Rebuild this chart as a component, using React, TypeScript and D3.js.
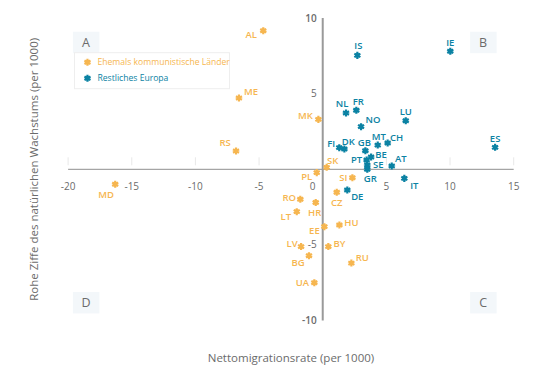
import React from "react";
import * as d3 from "d3";

const eastCodes = ["AL","ME","MK","RS","MD","SK","PL","SI","CZ","RO","HR","LT","EE","HU","LV","BY","BG","RU","UA"];
const eastX = [-4.67,-6.58,-0.34,-6.81,-16.3,0.31,-0.47,2.33,1.1,-1.76,-0.55,-2.04,0.13,1.31,-1.7,0.44,-1.08,2.25,-0.66];
const eastY = [9.16,4.71,3.3,1.21,-0.99,0.13,-0.22,-0.56,-1.52,-1.98,-2.19,-2.8,-3.79,-3.68,-5.11,-5.11,-5.71,-6.2,-7.5];

const westCodes = ["IS","IE","NL","FR","LU","NO","FI","DK","GB","MT","CH","ES","BE","PT","SE","AT","GR","IT","DE"];
const westX = [2.72,10.02,1.83,2.64,6.52,3.01,1.3,1.7,3.35,4.32,5.1,13.54,3.8,3.45,3.5,5.42,3.5,6.41,1.93];
const westY = [7.53,7.8,3.72,3.9,3.21,2.82,1.43,1.34,1.23,1.6,1.74,1.45,0.81,0.61,0.28,0.22,0.0,-0.6,-1.37];

// label offsets (pixels) relative to marker
const labelOffsets: Record<string, [number, number]> = {
  AL: [-12, 4], ME: [12, -6], MK: [-13, -4], RS: [-11, -8], MD: [-9, 10], SK: [6, -7], PL: [-10, 4],
  SI: [-9, 0], CZ: [0, 10], RO: [-11, -2], HR: [-1, 10], LT: [-11, 5], EE: [-10, 4], HU: [12, -2],
  LV: [-9, -3], BY: [11, -3], BG: [-11, 7], RU: [11, -5], UA: [-12, 0],
  IS: [1, -10], IE: [0, -9], NL: [-4, -9], FR: [2, -9], LU: [0, -9], NO: [12, -7], FI: [-8, -4],
  DK: [4, -7], GB: [-1, -8], MT: [1, -8], CH: [9, -5], ES: [0, -9], BE: [10, -2], PT: [-10, 0],
  SE: [11, 0], AT: [9, -7], GR: [3, 9], IT: [10, 7], DE: [10, 7],
};

const xTicks = [-20, -15, -10, -5, 0, 5, 10, 15];
const yTicks = [-10, -5, 5, 10];
const seriesNames = ["Ehemals kommunistische Länder", "Restliches Europa"];
const quadrants = ["A", "B", "C", "D"];

const ORANGE = "#f6b650";
const TEAL = "#0b82a3";
const FONT = "'Open Sans', 'Noto Sans', sans-serif";

const asterisk = d3.symbol().type(d3.symbolAsterisk).size(34)()!;

function Marker({ x, y, color }: { x: number; y: number; color: string }) {
  return (
    <g transform={`translate(${x},${y})`}>
      <path d={asterisk} stroke={color} strokeWidth={2.2} fill="none" />
      <rect x={-2} y={-2} width={4} height={4} fill={color} />
    </g>
  );
}

export default function App() {
  const W = 555, H = 381;
  const x = d3.scaleLinear().domain([-20, 15]).range([68.1, 513.7]);
  const y = d3.scaleLinear().domain([-10, 10]).range([320.6, 18.0]);
  const x0 = x(0), y0 = y(0);

  const east = eastCodes.map((c, i) => ({ c, x: eastX[i], y: eastY[i] }));
  const west = westCodes.map((c, i) => ({ c, x: westX[i], y: westY[i] }));

  const quadPos: Record<string, [number, number]> = {
    A: [x(-18.6), y(8.4)], B: [x(12.6), y(8.4)], C: [x(12.6), y(-8.8)], D: [x(-18.6), y(-8.8)],
  };

  return (
    <svg width={W} height={H} style={{ position: "absolute", left: 0, top: 0, background: "#fff" }} fontFamily={FONT}>
      {/* quadrant boxes */}
      {quadrants.map((q) => (
        <g key={q} transform={`translate(${quadPos[q][0]},${quadPos[q][1]})`}>
          <rect x={-13} y={-10.5} width={26.5} height={21.5} fill="#f3f7fa" />
          <text x={0} y={4.5} textAnchor="middle" fontSize={12.5} fill="#6b6b6b">{q}</text>
        </g>
      ))}

      {/* legend */}
      <g transform={`translate(${x(-19.5)},52.7)`}>
        <rect x={0} y={0} width={155} height={36} fill="#fff" stroke="#eeeeee" />
        {seriesNames.map((s, i) => (
          <g key={s} transform={`translate(13,${9.6 + i * 16})`}>
            <Marker x={0} y={0} color={i === 0 ? ORANGE : TEAL} />
            <text x={10} y={3} fontSize={8.6} fill={i === 0 ? ORANGE : TEAL} fontWeight={500}>{s}</text>
          </g>
        ))}
      </g>

      {/* x ticks */}
      {xTicks.map((t) => (
        <g key={`xt${t}`}>
          {t !== 0 && <line x1={x(t)} x2={x(t)} y1={y0 - 12} y2={y0 - 4} stroke="#e8e8e8" />}
          <text x={t === 0 ? x(t) - 10 : x(t)} y={y0 + 21} textAnchor="middle" fontSize={10} fill="#6b6b6b">{t}</text>
        </g>
      ))}
      {/* y ticks */}
      {yTicks.map((t) => (
        <text key={`yt${t}`} x={x0 - 6} y={y(t) + 3.5} textAnchor="end" fontSize={10} fill="#6b6b6b" fontWeight={t === -10 || t === 10 ? 600 : 400}>{t}</text>
      ))}

      {/* axes */}
      <line x1={x(-20)} x2={x(15)} y1={y0} y2={y0} stroke="#8f8f8f" strokeWidth={1} />
      <line x1={x0} x2={x0} y1={y(10)} y2={y(-10)} stroke="#9a9a9a" strokeWidth={2} />

      {/* points */}
      {[{ data: east, color: ORANGE }, { data: west, color: TEAL }].map((s, si) => (
        <g key={si}>
          {s.data.map((d) => {
            const [dx, dy] = labelOffsets[d.c] || [0, -9];
            return (
              <g key={d.c}>
                <Marker x={x(d.x)} y={y(d.y)} color={s.color} />
                <text x={x(d.x) + dx} y={y(d.y) + dy + 3.3} textAnchor="middle" fontSize={9.5} fontWeight={600} fill={s.color}>{d.c}</text>
              </g>
            );
          })}
        </g>
      ))}

      {/* axis titles */}
      <text x={291} y={362} textAnchor="middle" fontSize={11.5} fill="#6b6b6b">Nettomigrationsrate (per 1000)</text>
      <text transform={`translate(38,${y0}) rotate(-90)`} textAnchor="middle" fontSize={11.5} fill="#6b6b6b">Rohe Ziffe des natürlichen Wachstums (per 1000)</text>
    </svg>
  );
}
